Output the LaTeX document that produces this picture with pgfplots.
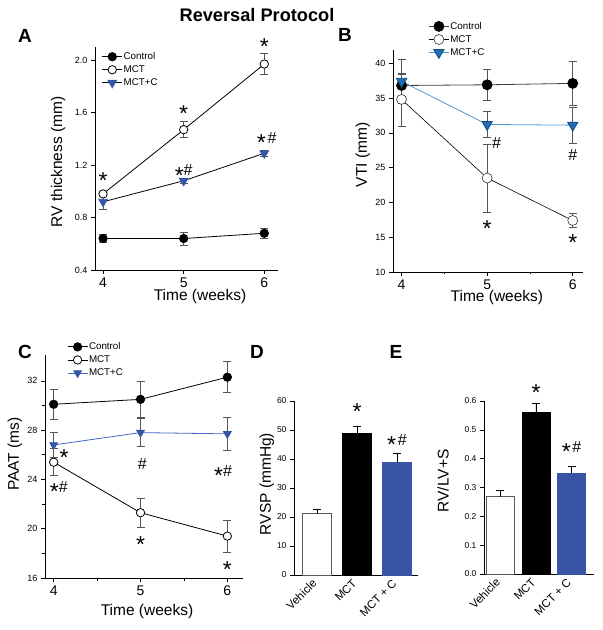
\documentclass[border=0pt]{standalone}
\usepackage{fontspec}
\setmainfont{Liberation Sans}
\usepackage{pgfplots}
\pgfplotsset{compat=1.18}

\definecolor{barblue}{HTML}{3A54A5}
\definecolor{triA}{HTML}{3556A8}
\definecolor{triB}{HTML}{1F6EB5}
\definecolor{lineB}{HTML}{4A9BDE}
\definecolor{lineC}{HTML}{4466C4}
\definecolor{ebar}{HTML}{555555}

% asterisk lowered so its middle sits near the middle of the #
\newcommand{\st}{\raisebox{-7.2pt}{\fontsize{23}{23}\selectfont *}}
\newcommand{\hs}{{\fontsize{16}{16}\selectfont \#}}

\pgfplotsset{
  base/.style={
    scale only axis, anchor=south west, clip=false,
    axis x line*=bottom, axis y line*=left,
    tick align=outside, major tick length=4pt, minor tick length=2.5pt,
    every tick/.style={black, line width=0.6pt},
    axis line style={line width=0.8pt},
    /pgf/number format/assume math mode=true,
    legend cell align=left,
    legend style={draw=none, fill=none, anchor=north west,
      font=\fontsize{9.8}{10}\selectfont, row sep=2.6pt,
      nodes={inner sep=1pt}},
    legend image code/.code={\draw[mark repeat=2,mark phase=2,##1]
      plot coordinates {(0pt,0pt) (10pt,0pt) (20pt,0pt)};},
    label style={font=\fontsize{15.5}{16}\selectfont},
  },
  lineax/.style={base,
    xtick={4,5,6}, xmin=3.9,
    x tick label style={font=\fontsize{14}{14}\selectfont},
    y tick label style={font=\fontsize{9}{9}\selectfont},
    xlabel={Time (weeks)},
    error bars/y dir=both, error bars/y explicit,
    error bars/error bar style={ebar, line width=0.7pt},
    error bars/error mark options={ebar, line width=0.7pt, mark size=4pt, rotate=90},
  },
  barax/.style={base,
    ymin=0, xtick={0,1,2},
    xticklabels={Vehicle, MCT, MCT + C},
    major x tick style={draw=none},
    x tick label style={font=\fontsize{11.5}{11}\selectfont, rotate=45, anchor=east},
    y tick label style={font=\fontsize{8.5}{9}\selectfont},
    ybar, bar shift=0pt,
    error bars/y dir=plus, error bars/y explicit,
    error bars/error bar style={black, line width=0.7pt},
    error bars/error mark options={black, line width=0.7pt, mark size=4pt, rotate=90},
  },
  ctrl/.style={black, line width=0.8pt, mark=*, mark size=4.2pt, mark options={solid, fill=black}},
  mct/.style={black, line width=0.8pt, mark=*, mark size=4.2pt, mark options={solid, fill=white, draw=black}},
}

\begin{document}
\begin{tikzpicture}
\useasboundingbox (0pt,0pt) rectangle (603pt,630pt);

\node[font=\bfseries\fontsize{18.2}{18}\selectfont] at (257pt,615pt) {Reversal Protocol};
\node[font=\bfseries\fontsize{19}{19}\selectfont] at (25pt,594pt) {A};
\node[font=\bfseries\fontsize{19}{19}\selectfont] at (345pt,595pt) {B};
\node[font=\bfseries\fontsize{19}{19}\selectfont] at (25pt,278pt) {C};
\node[font=\bfseries\fontsize{19}{19}\selectfont] at (257pt,278pt) {D};
\node[font=\bfseries\fontsize{19}{19}\selectfont] at (396pt,278pt) {E};

% ---------------- A
\begin{axis}[lineax, at={(95pt,360pt)}, width=183pt, height=223pt,
  xmax=6.17, ymin=0.4, ymax=2.1,
  ytick={0.4,0.8,1.2,1.6,2.0},
  yticklabel style={/pgf/number format/.cd, fixed, fixed zerofill, precision=1},
  ylabel={RV thickness (mm)},
  ylabel style={at={(axis description cs:-0.202,0.484)}, anchor=center},
  xlabel style={at={(axis description cs:0.574,-0.121)}, anchor=center},
  legend style={at={(axis description cs:0.02,0.99)}}]
\addplot[ctrl] coordinates {(4,0.64) +- (0,0.03) (5,0.64) +- (0,0.05) (6,0.68) +- (0,0.04)};
\addlegendentry{Control}
\addplot[mct] coordinates {(4,0.98) +- (0,0.02) (5,1.47) +- (0,0.06) (6,1.97) +- (0,0.08)};
\addlegendentry{MCT}
\addplot[black, line width=0.8pt, mark=triangle*, mark size=5pt,
  mark options={solid, rotate=180, fill=triA, draw=triA}]
  coordinates {(4,0.92) +- (0,0.06) (5,1.08) +- (0,0.02) (6,1.29) +- (0,0.02)};
\addlegendentry{MCT+C}
\node[anchor=base, yshift=-5.6pt] at (axis cs:4,1.12) {\st};
\node[anchor=base, yshift=-5.6pt] at (axis cs:5,1.63) {\st};
\node[anchor=base, yshift=-5.6pt] at (axis cs:6,2.14) {\st};
\node[anchor=base, yshift=-5.6pt] at (axis cs:5,1.16) {\st\hs};
\node[anchor=base, yshift=-5.6pt] at (axis cs:6.03,1.41) {\st\,\hs};
\end{axis}

% ---------------- B
\begin{axis}[lineax, at={(393pt,358pt)}, width=190pt, height=222pt,
  xmax=6.12, ymin=10, ymax=41.9,
  ytick={10,15,...,40}, minor x tick num=1,
  ylabel={VTI (mm)},
  ylabel style={at={(axis description cs:-0.158,0.527)}, anchor=center},
  xlabel style={at={(axis description cs:0.547,-0.113)}, anchor=center},
  legend style={at={(axis description cs:0.17,1.14)}}]
\addplot[black!75, line width=0.8pt, mark=*, mark size=5pt, mark options={solid, fill=black, draw=black}]
  coordinates {(4,36.8) +- (0,1.6) (5,36.9) +- (0,2.2) (6,37.1) +- (0,3.2)};
\addlegendentry{Control}
\addplot[black, line width=0.6pt, mark=*, mark size=5pt, mark options={solid, fill=white, draw=black!80}]
  coordinates {(4,34.8) +- (0,3.8) (5,23.5) +- (0,4.9) (6,17.4) +- (0,1.05)};
\addlegendentry{MCT}
\addplot[lineB, line width=0.8pt, mark=triangle*, mark size=6pt,
  mark options={solid, rotate=180, fill=triB, draw=triB!70!black}]
  coordinates {(4,37.4) +- (0,3.2) (5,31.2) +- (0,1.85) (6,31.1) +- (0,2.6)};
\addlegendentry{MCT+C}
\node[anchor=base, yshift=-5.6pt] at (axis cs:5.11,28.6) {\hs};
\node[anchor=base, yshift=-5.6pt] at (axis cs:5,17.0) {\st};
\node[anchor=base, yshift=-5.6pt] at (axis cs:6,26.8) {\hs};
\node[anchor=base, yshift=-5.6pt] at (axis cs:6,14.9) {\st};
\end{axis}

% ---------------- C
\begin{axis}[lineax, at={(45pt,52pt)}, width=198pt, height=223pt,
  xmax=6.18, ymin=16, ymax=34.1,
  ytick={16,20,...,32}, minor y tick num=1, minor x tick num=1,
  ylabel={PAAT (ms)},
  ylabel style={at={(axis description cs:-0.152,0.556)}, anchor=center},
  xlabel style={at={(axis description cs:0.515,-0.152)}, anchor=center},
  legend style={at={(axis description cs:0.096,1.07)}}]
\addplot[ctrl] coordinates {(4,30.1) +- (0,1.2) (5,30.5) +- (0,1.5) (6,32.3) +- (0,1.25)};
\addlegendentry{Control}
\addplot[mct] coordinates {(4,25.4) +- (0,1.1) (5,21.3) +- (0,1.2) (6,19.4) +- (0,1.3)};
\addlegendentry{MCT}
\addplot[lineC, line width=0.8pt, mark=triangle*, mark size=4.5pt,
  mark options={solid, rotate=180, fill=triA, draw=triA}]
  coordinates {(4,26.8) +- (0,1.0) (5,27.8) +- (0,1.15) (6,27.7) +- (0,1.35)};
\addlegendentry{MCT+C}
\node[anchor=base, yshift=-5.6pt] at (axis cs:4.12,26.2) {\st};
\node[anchor=base, yshift=-5.6pt] at (axis cs:4.06,23.4) {\st\hs};
\node[anchor=base, yshift=-5.6pt] at (axis cs:5.02,25.3) {\hs};
\node[anchor=base, yshift=-5.6pt] at (axis cs:5.95,24.7) {\st\hs};
\node[anchor=base, yshift=-5.6pt] at (axis cs:5,19.1) {\st};
\node[anchor=base, yshift=-5.6pt] at (axis cs:6,17.05) {\st};
\end{axis}

% ---------------- D
\begin{axis}[barax, at={(294pt,55pt)}, width=124pt, height=174pt,
  xmin=-0.575, xmax=2.525, ymax=60, ytick={0,10,...,60},
  bar width=29pt,
  ylabel={RVSP (mmHg)},
  ylabel style={at={(axis description cs:-0.218,0.523)}, anchor=center}]
\addplot[draw=black!65, fill=white, line width=0.7pt] coordinates {(0,21.2) +- (0,1.4)};
\addplot[draw=black, fill=black] coordinates {(1,48.9) +- (0,2.3)};
\addplot[draw=barblue, fill=barblue] coordinates {(2,39.0) +- (0,3.0)};
\node[anchor=base, yshift=-5.6pt] at (axis cs:1,57.9) {\st};
\node[anchor=base, yshift=-5.6pt] at (axis cs:2,46.6) {\st\,\hs};
\end{axis}

% ---------------- E
\begin{axis}[barax, at={(484pt,56pt)}, width=110pt, height=173pt,
  xmin=-0.46, xmax=2.63, ymax=0.6, ytick={0,0.1,...,0.6},
  yticklabel style={/pgf/number format/.cd, fixed, fixed zerofill, precision=1},
  bar width=28pt,
  ylabel={RV/LV+S},
  ylabel style={at={(axis description cs:-0.373,0.538)}, anchor=center}]
\addplot[draw=black!65, fill=white, line width=0.7pt] coordinates {(0,0.268) +- (0,0.021)};
\addplot[draw=black, fill=black] coordinates {(1,0.561) +- (0,0.03)};
\addplot[draw=barblue, fill=barblue] coordinates {(2,0.351) +- (0,0.021)};
\node[anchor=base, yshift=-5.6pt] at (axis cs:1,0.645) {\st};
\node[anchor=base, yshift=-5.6pt] at (axis cs:2,0.44) {\st\,\hs};
\end{axis}
\end{tikzpicture}
\end{document}
